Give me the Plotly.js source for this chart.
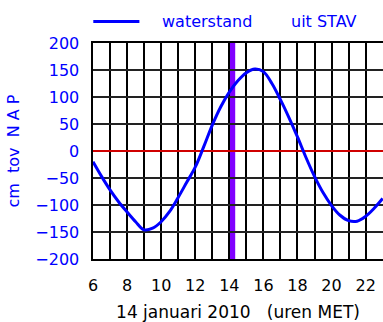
<!DOCTYPE html>
<html>
<head>
<meta charset="utf-8">
<script src="https://cdn.plot.ly/plotly-3.0.1.min.js"></script>
<style>html,body{margin:0;padding:0;background:#fff;}#chart{width:383px;height:322px;}</style>
</head>
<body>
<div id="chart"></div>
<script>
// Hours (MET) on 14 januari 2010
const hours = [6, 6.5, 7, 7.5, 8, 8.5, 9, 9.5, 10, 10.5, 11, 11.5, 12, 12.5, 13, 13.5, 14, 14.5, 15, 15.5, 16, 16.5, 17, 17.5, 18, 18.5, 19, 19.5, 20, 20.5, 21, 21.5, 22, 22.5, 23];
// Water level, cm tov NAP
const waterstand = [-20, -47, -72, -94, -113, -131, -146, -143, -131, -112, -86, -58, -30, 8, 48, 82, 109, 130, 145, 152, 147, 125, 95, 62, 26, -12, -47, -77, -101, -119, -129, -130, -121, -106, -88];
const xTickVals = [6, 8, 10, 12, 14, 16, 18, 20, 22];
const yTickVals = [-200, -150, -100, -50, 0, 50, 100, 150, 200];
const nowHour = 14.17;
const legendLabels = ['waterstand', 'uit STAV'];

const fontFam = 'DejaVu Sans, Liberation Sans, Arial, sans-serif';

const trace = {
  x: hours, y: waterstand, type: 'scatter', mode: 'lines',
  line: {color: '#0000ff', width: 3, shape: 'spline', smoothing: 1},
  name: legendLabels[0], showlegend: false, hoverinfo: 'skip'
};

const layout = {
  width: 383, height: 322,
  margin: {l: 92.5, r: 0, t: 43, b: 63, pad: 0},
  paper_bgcolor: '#ffffff', plot_bgcolor: '#ffffff',
  font: {family: fontFam, size: 16, color: '#000'},
  showlegend: false,
  xaxis: {
    range: [6, 23.02], tickvals: xTickVals, ticktext: xTickVals.map(String),
    showgrid: true, gridcolor: '#000', gridwidth: 2,
    minor: {dtick: 1, tick0: 0, showgrid: true, gridcolor: '#000', gridwidth: 2},
    showline: true, linecolor: '#000', linewidth: 2, mirror: true,
    zeroline: false, ticks: '', ticklabelstandoff: 11,
    tickfont: {family: fontFam, size: 16, color: '#000'},
    title: {text: '14 januari 2010   (uren MET)', font: {family: fontFam, size: 17, color: '#000'}, standoff: 14}
  },
  yaxis: {
    range: [-200, 200], tickvals: yTickVals,
    showgrid: true, gridcolor: '#222', gridwidth: 1.5,
    showline: true, linecolor: '#000', linewidth: 2.5, mirror: true,
    zeroline: true, zerolinecolor: '#d00000', zerolinewidth: 1.5,
    ticks: '', ticklabelstandoff: 8,
    tickfont: {family: fontFam, size: 16, color: '#0000ff'},
    title: {text: 'cm  tov  N A P', font: {family: fontFam, size: 16, color: '#0000ff'}, standoff: 12}
  },
  shapes: [
    {type: 'line', xref: 'x', yref: 'paper', x0: nowHour, x1: nowHour, y0: 0, y1: 1,
     line: {color: '#8000ff', width: 6}, layer: 'below'},
    {type: 'line', xref: 'paper', yref: 'paper', x0: 0.001, x1: 0.16, y0: 1.1, y1: 1.1,
     line: {color: '#0000ff', width: 3}}
  ],
  annotations: [
    {text: legendLabels[0], xref: 'paper', yref: 'paper', x: 0.232, y: 1.1, xanchor: 'left', yanchor: 'middle',
     showarrow: false, font: {family: fontFam, size: 16, color: '#0000ff'}},
    {text: legendLabels[1], xref: 'paper', yref: 'paper', x: 0.675, y: 1.1, xanchor: 'left', yanchor: 'middle',
     showarrow: false, font: {family: fontFam, size: 16, color: '#0000ff'}}
  ]
};

Plotly.newPlot('chart', [trace], layout, {displayModeBar: false, staticPlot: true});
</script>
</body>
</html>
